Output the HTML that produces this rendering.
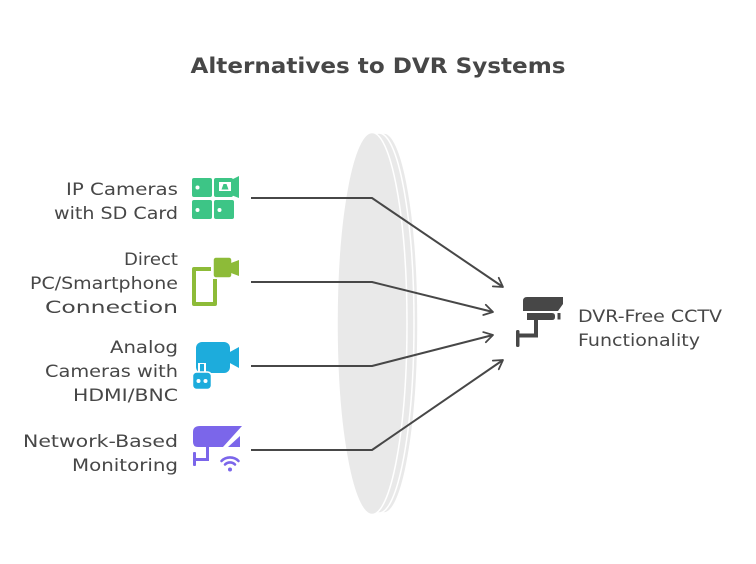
<!DOCTYPE html>
<html>
<head>
<meta charset="utf-8">
<style>
  html, body { margin: 0; padding: 0; background: #ffffff; }
  svg { display: block; }
  text { font-family: "DejaVu Sans", "Liberation Sans", sans-serif; fill: #474747; }
</style>
</head>
<body>
<svg width="756" height="564" viewBox="0 0 756 564" xmlns="http://www.w3.org/2000/svg">
  <defs>
    <marker id="ah" markerWidth="14" markerHeight="14" refX="0" refY="0" viewBox="-12 -8 14 16" orient="auto" markerUnits="userSpaceOnUse">
      <path d="M-10,-6 L0,0 L-10,6" fill="none" stroke="#474747" stroke-width="2" stroke-linecap="round" stroke-linejoin="round"/>
    </marker>
  </defs>

  <!-- Title -->
  <text x="378" y="73" text-anchor="middle" font-size="21" font-weight="bold" textLength="375" lengthAdjust="spacingAndGlyphs">Alternatives to DVR Systems</text>

  <!-- Lens -->
  <ellipse cx="384" cy="323" rx="34" ry="190" fill="#e9e9e9" stroke="#ffffff" stroke-width="1.5"/>
  <ellipse cx="379" cy="323" rx="35" ry="190" fill="#e9e9e9" stroke="#ffffff" stroke-width="1.5"/>
  <ellipse cx="372" cy="323.5" rx="35" ry="191" fill="#e9e9e9" stroke="#ffffff" stroke-width="1.5"/>

  <!-- Connectors -->
  <g fill="none" stroke="#474747" stroke-width="2" stroke-linejoin="round">
    <polyline points="251,198 372,198 503,287" marker-end="url(#ah)"/>
    <polyline points="251,282 372,282 493,312" marker-end="url(#ah)"/>
    <polyline points="251,366 372,366 493,335" marker-end="url(#ah)"/>
    <polyline points="251,450 372,450 503,360" marker-end="url(#ah)"/>
  </g>

  <!-- Left labels -->
  <g font-size="17" text-anchor="end">
    <text x="178" y="195" textLength="112" lengthAdjust="spacingAndGlyphs">IP Cameras</text>
    <text x="178" y="219" textLength="124" lengthAdjust="spacingAndGlyphs">with SD Card</text>

    <text x="178" y="265" textLength="54" lengthAdjust="spacingAndGlyphs">Direct</text>
    <text x="178" y="289" textLength="148" lengthAdjust="spacingAndGlyphs">PC/Smartphone</text>
    <text x="178" y="313" textLength="133" lengthAdjust="spacingAndGlyphs">Connection</text>

    <text x="178" y="353" textLength="68" lengthAdjust="spacingAndGlyphs">Analog</text>
    <text x="178" y="377" textLength="133" lengthAdjust="spacingAndGlyphs">Cameras with</text>
    <text x="178" y="401" textLength="105" lengthAdjust="spacingAndGlyphs">HDMI/BNC</text>

    <text x="178" y="447" textLength="155" lengthAdjust="spacingAndGlyphs">Network-Based</text>
    <text x="178" y="471" textLength="106" lengthAdjust="spacingAndGlyphs">Monitoring</text>
  </g>

  <!-- Right label -->
  <g font-size="17">
    <text x="578" y="322" textLength="144" lengthAdjust="spacingAndGlyphs">DVR-Free CCTV</text>
    <text x="578" y="346" textLength="122" lengthAdjust="spacingAndGlyphs">Functionality</text>
  </g>

  <!-- Icon 1: IP cameras grid (green) -->
  <g fill="#3dc586">
    <rect x="192" y="178" width="20" height="19" rx="2"/>
    <rect x="192" y="200" width="20" height="19" rx="2"/>
    <rect x="214" y="200" width="20" height="19" rx="2"/>
    <rect x="214" y="178" width="19" height="19" rx="2"/>
    <polygon points="231,180 239,176 239,198 231,195"/>
  </g>
  <g fill="#ffffff">
    <circle cx="197.5" cy="187.5" r="2"/>
    <circle cx="197.5" cy="210" r="2"/>
    <circle cx="219.5" cy="210" r="2"/>
    <rect x="219" y="182" width="12" height="9"/>
  </g>
  <polygon points="221.5,189.5 223.5,184 226.5,184 228.5,189.5" fill="#3dc586"/>

  <!-- Icon 2: phone + camera (olive) -->
  <path d="M211,269 H194 V304 H215 V279" fill="none" stroke="#8dbb38" stroke-width="4" stroke-linejoin="round"/>
  <g fill="#8dbb38">
    <rect x="213" y="257" width="19" height="21" rx="3" stroke="#ffffff" stroke-width="1.5"/>
    <polygon points="231,263 239,260 239,276 231,273"/>
  </g>

  <!-- Icon 3: analog camera with plug (blue) -->
  <g fill="#1dacdc">
    <rect x="196" y="342" width="34" height="31" rx="6"/>
    <polygon points="228,353 239,347 239,368 228,362"/>
  </g>
  <rect x="198" y="363" width="8" height="10" fill="#ffffff"/>
  <rect x="200" y="364" width="4" height="10" fill="#1dacdc"/>
  <rect x="192.5" y="372" width="19" height="17.5" rx="4" fill="#1dacdc" stroke="#ffffff" stroke-width="1.5"/>
  <g fill="#ffffff">
    <circle cx="198.5" cy="381" r="2"/>
    <circle cx="205.5" cy="381" r="2"/>
  </g>

  <!-- Icon 4: network camera (purple) -->
  <g fill="#7b66ea">
    <path d="M200,426 H242 L223,447 H198 Q193,447 193,442 V432 Q193,426 200,426 Z"/>
    <polygon points="228,447 240,436 240,447"/>
    <rect x="193" y="452" width="3" height="14" rx="1"/>
    <rect x="193" y="458" width="16" height="3"/>
    <rect x="206" y="447" width="3" height="14"/>
    <circle cx="230" cy="469.5" r="2"/>
  </g>
  <g fill="none" stroke="#7b66ea" stroke-width="2.6" stroke-linecap="round">
    <path d="M225,464.5 A7,7 0 0 1 235,464.5"/>
    <path d="M221.5,461 A12,12 0 0 1 238.5,461"/>
  </g>

  <!-- CCTV icon (dark) -->
  <g fill="#474747">
    <path d="M527,297 H563 V304 L558,311 H523 V301 Q523,297 527,297 Z"/>
    <path d="M527,313 H552 Q555,313 555,316 V317 Q555,320 552,320 H527 Z"/>
    <rect x="557.5" y="313" width="3" height="6.5"/>
    <rect x="534" y="320" width="4" height="16"/>
    <rect x="519" y="333.5" width="19" height="4"/>
    <rect x="516" y="330" width="3.5" height="17" rx="1.5"/>
  </g>
</svg>
</body>
</html>
